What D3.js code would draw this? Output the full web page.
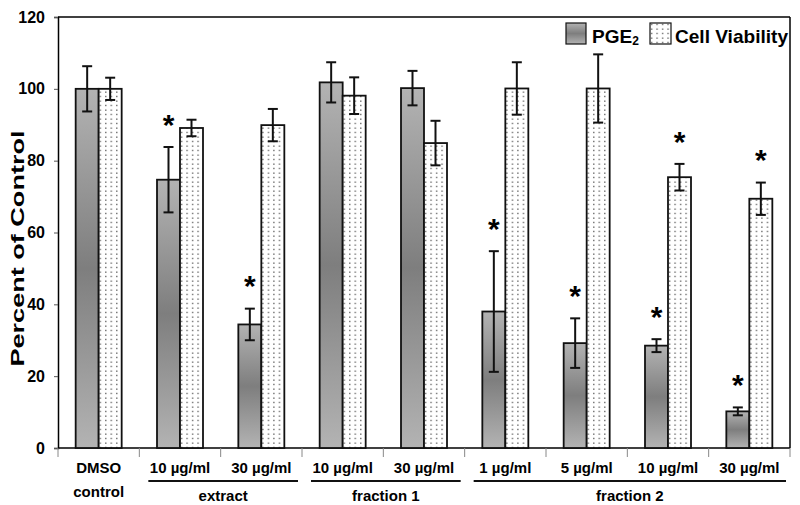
<!DOCTYPE html>
<html><head><meta charset="utf-8">
<script src="https://cdn.jsdelivr.net/npm/d3@7"></script>
<style>body{margin:0;background:#fff}svg{display:block;font-family:"Liberation Sans",Arial,sans-serif}</style>
</head><body><svg id="c" width="800" height="505"></svg>
<script>
const categories = ["DMSO","10 µg/ml","30 µg/ml","10 µg/ml","30 µg/ml","1 µg/ml","5 µg/ml","10 µg/ml","30 µg/ml"];
const pge2 = [100, 74.7, 34.4, 101.8, 100.2, 38, 29.2, 28.5, 10.2];
const pge2Err = [6.3, 9.1, 4.4, 5.6, 4.8, 16.8, 6.9, 1.8, 1.1];
const viab = [100, 89.1, 89.9, 98.1, 84.9, 100.1, 100.1, 75.4, 69.4];
const viabErr = [3.1, 2.3, 4.5, 5.1, 6.2, 7.3, 9.5, 3.7, 4.5];
const pge2Star = [false, true, true, false, false, true, true, true, true];
const viabStar = [false, false, false, false, false, false, false, true, true];
const groupNames = ["extract", "fraction 1", "fraction 2"];
const groupStart = [1, 3, 5];
const groupEnd = [2, 4, 8];
const yTicks = [0, 20, 40, 60, 80, 100, 120];
const seriesNames = ["PGE2", "Cell Viability"];

const svg = d3.select("#c");
const L = 58, R = 790, T = 17, B = 448;
const y = d3.scaleLinear().domain([0, 120]).range([B, T]);
const p = 1 - 46 / ((R - L) / 9);
const x = d3.scaleBand().domain(d3.range(9)).range([L, R]).paddingInner(p).paddingOuter(p / 2);
const x1 = d3.scaleBand().domain([0, 1]).range([0, x.bandwidth()]);
const step = x.step();
const bandLeft = i => L + i * step;

const defs = svg.append("defs");
const g = defs.append("linearGradient").attr("id", "grad").attr("x1", 0).attr("y1", 0).attr("x2", 0).attr("y2", 1);
g.append("stop").attr("offset", "0%").attr("stop-color", "#b3b3b3");
g.append("stop").attr("offset", "50%").attr("stop-color", "#7e7e7e");
g.append("stop").attr("offset", "100%").attr("stop-color", "#b3b3b3");
const pat = defs.append("pattern").attr("id", "dots").attr("patternUnits", "userSpaceOnUse")
  .attr("width", 5.5).attr("height", 4.5);
pat.append("rect").attr("width", 5.5).attr("height", 4.5).attr("fill", "#fff");
pat.append("rect").attr("x", 2).attr("y", 1.5).attr("width", 1.2).attr("height", 1.2).attr("fill", "#333");

// frame
svg.append("line").attr("x1", L).attr("x2", R).attr("y1", T).attr("y2", T).attr("stroke", "#000").attr("stroke-width", 1.5);
svg.append("line").attr("x1", R).attr("x2", R).attr("y1", T).attr("y2", B).attr("stroke", "#000").attr("stroke-width", 1.5);

// y axis
const yAxis = d3.axisLeft(y).tickValues(yTicks).tickSize(4).tickPadding(9);
const ya = svg.append("g").attr("transform", `translate(${L},0)`).call(yAxis);
ya.select(".domain").attr("stroke", "#000").attr("stroke-width", 1.5);
ya.selectAll(".tick line").attr("stroke", "#555");
ya.selectAll("text").attr("font-size", 16).attr("font-weight", "bold").attr("fill", "#000")
  .attr("font-family", "'Liberation Sans',Arial,sans-serif");

svg.append("text").attr("transform", `translate(24,${(T + B) / 2 + 16}) rotate(-90)`)
  .attr("text-anchor", "middle").attr("font-size", 19).attr("font-weight", "bold")
  .attr("textLength", 236).attr("lengthAdjust", "spacingAndGlyphs")
  .text("Percent of Control");

// bottom axis & ticks
svg.append("line").attr("x1", L).attr("x2", R).attr("y1", B).attr("y2", B).attr("stroke", "#000").attr("stroke-width", 1.5);
svg.selectAll(".bt").data(d3.range(10)).join("line")
  .attr("x1", d => bandLeft(d)).attr("x2", d => bandLeft(d)).attr("y1", B).attr("y2", B + 9)
  .attr("stroke", "#888").attr("stroke-width", 1);

// bars
const gr = svg.selectAll(".grp").data(d3.range(9)).join("g").attr("transform", i => `translate(${x(i)},0)`);
gr.append("rect").attr("x", x1(0)).attr("width", x1.bandwidth())
  .attr("y", i => y(pge2[i])).attr("height", i => B - y(pge2[i]))
  .attr("fill", "url(#grad)").attr("stroke", "#111").attr("stroke-width", 1.8);
gr.append("rect").attr("x", x1(1)).attr("width", x1.bandwidth())
  .attr("y", i => y(viab[i])).attr("height", i => B - y(viab[i]))
  .attr("fill", "url(#dots)").attr("stroke", "#111").attr("stroke-width", 1.8);

function errBars(vals, errs, k) {
  const cx = x1(k) + x1.bandwidth() / 2;
  const e = gr.append("g").attr("stroke", "#111").attr("stroke-width", 2);
  e.append("line").attr("x1", cx).attr("x2", cx).attr("y1", i => y(vals[i] + errs[i])).attr("y2", i => y(vals[i] - errs[i]));
  e.append("line").attr("x1", cx - 5).attr("x2", cx + 5).attr("y1", i => y(vals[i] + errs[i])).attr("y2", i => y(vals[i] + errs[i]));
  e.append("line").attr("x1", cx - 5).attr("x2", cx + 5).attr("y1", i => y(vals[i] - errs[i])).attr("y2", i => y(vals[i] - errs[i]));
}
errBars(pge2, pge2Err, 0);
errBars(viab, viabErr, 1);

function stars(vals, errs, flags, k) {
  const cx = x1(k) + x1.bandwidth() / 2;
  gr.filter(i => flags[i]).append("text").attr("x", cx)
    .attr("y", i => y(vals[i] + errs[i] + 8) + 16.5)
    .attr("text-anchor", "middle").attr("font-size", 30).attr("font-weight", "bold").text("*");
}
stars(pge2, pge2Err, pge2Star, 0);
stars(viab, viabErr, viabStar, 1);

// category labels
svg.selectAll(".cl").data(categories).join("text")
  .attr("x", (d, i) => x(i) + x.bandwidth() / 2).attr("y", 473)
  .attr("text-anchor", "middle").attr("font-size", 15).attr("font-weight", "bold").text(d => d);
svg.append("text").attr("x", x(0) + x.bandwidth() / 2).attr("y", 497)
  .attr("text-anchor", "middle").attr("font-size", 15).attr("font-weight", "bold").text("control");

// groups
groupNames.forEach((nm, j) => {
  const a = bandLeft(groupStart[j]) + 9, b = bandLeft(groupEnd[j] + 1) - 4;
  svg.append("line").attr("x1", a).attr("x2", b).attr("y1", 481).attr("y2", 481).attr("stroke", "#111").attr("stroke-width", 2);
  svg.append("text").attr("x", (a + b) / 2).attr("y", 501).attr("text-anchor", "middle")
    .attr("font-size", 15).attr("font-weight", "bold").text(nm);
});

// legend
svg.append("rect").attr("x", 566).attr("y", 23).attr("width", 20).attr("height", 21)
  .attr("fill", "url(#grad)").attr("stroke", "#111").attr("stroke-width", 1.2);
const lt = svg.append("text").attr("x", 592).attr("y", 43).attr("font-size", 19).attr("font-weight", "bold");
lt.append("tspan").text("PGE");
lt.append("tspan").attr("font-size", 12).attr("dy", 2).text("2");
svg.append("rect").attr("x", 650).attr("y", 23).attr("width", 21).attr("height", 21)
  .attr("fill", "url(#dots)").attr("stroke", "#111").attr("stroke-width", 1.2);
svg.append("text").attr("x", 675).attr("y", 43).attr("font-size", 19).attr("font-weight", "bold")
  .attr("textLength", 113).attr("lengthAdjust", "spacingAndGlyphs").text(seriesNames[1]);
</script></body></html>
